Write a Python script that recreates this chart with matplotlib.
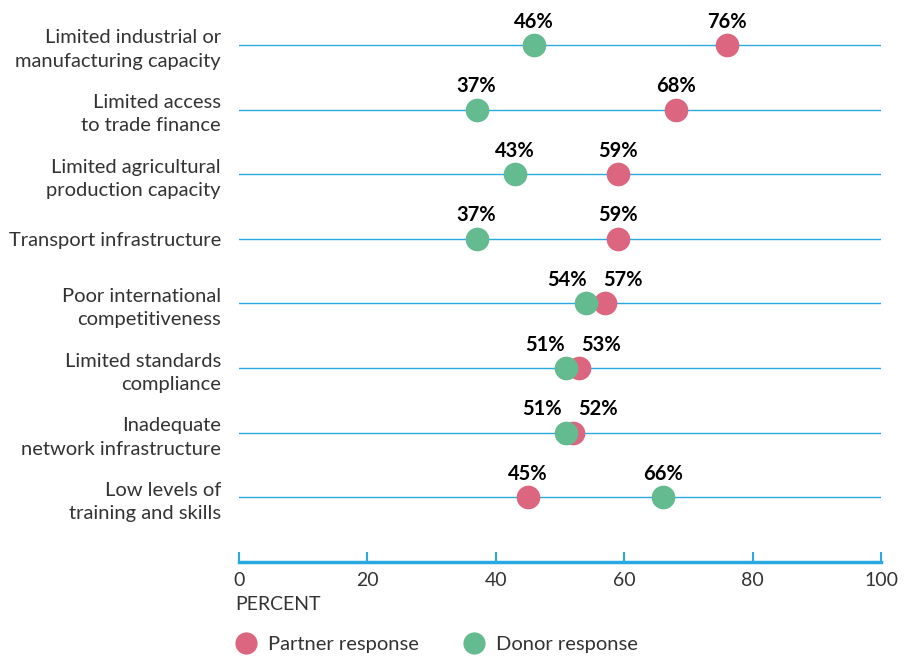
import numpy as np
import matplotlib.pyplot as plt
from matplotlib.lines import Line2D

plt.rcParams['font.family'] = ['Lato', 'DejaVu Sans']

# survey categories, top to bottom
categories = [
    "Limited industrial or\nmanufacturing capacity",
    "Limited access\nto trade finance",
    "Limited agricultural\nproduction capacity",
    "Transport infrastructure",
    "Poor international\ncompetitiveness",
    "Limited standards\ncompliance",
    "Inadequate\nnetwork infrastructure",
    "Low levels of\ntraining and skills",
]
partner = [76, 68, 59, 59, 57, 53, 52, 45]
donor = [46, 37, 43, 37, 54, 51, 51, 66]
xticks = [0, 20, 40, 60, 80, 100]

red = "#dc6680"
green = "#63bb8f"
blue = "#29a9e0"
txt = "#333333"

fig = plt.figure(figsize=(9.05, 6.57), dpi=100)
ax = fig.add_axes([239/905, (657-562)/657, (881-239)/905, (562-10)/657])

y = np.arange(len(categories))
for yi in y:
    ax.axhline(yi, color=blue, lw=1.0, zorder=1)

ax.scatter(partner, y, s=290, color=red, zorder=3, linewidths=0)
ax.scatter(donor, y, s=290, color=green, zorder=4, linewidths=0)

# value labels; spread them apart when the two dots nearly touch
px_per_unit = 642 / 100
for yi, p, d in zip(y, partner, donor):
    if abs(p - d) < 6:
        mid = (p + d) / 2
        lo, hi = (p, d) if p < d else (d, p)
        offs = {lo: (mid - lo) * px_per_unit - 28, hi: (mid - hi) * px_per_unit + 28}
    else:
        offs = {p: 0, d: 0}
    for v in (p, d):
        ax.annotate(f"{v}%", (v, yi), xytext=(offs[v] * 0.72, 12.5),
                    textcoords="offset points", ha="center", va="baseline",
                    fontsize=14.5, fontweight="bold", color="black", zorder=5)

ax.set_xlim(0, 100)
ax.set_ylim(8.0, -0.54)
ax.set_xticks(xticks)
ax.set_xticklabels([str(t) for t in xticks], fontsize=14, color=txt)
ax.set_yticks(y)
ax.set_yticklabels(categories, fontsize=14.5, color=txt)
for lbl in ax.get_yticklabels():
    lbl.set_linespacing(1.45)

ax.tick_params(axis="y", length=0, pad=13)
ax.tick_params(axis="x", direction="in", length=7, width=1.5, color=blue, pad=7)
for side in ("top", "right", "left"):
    ax.spines[side].set_visible(False)
ax.spines["bottom"].set_color(blue)
ax.spines["bottom"].set_linewidth(2.5)

fig.text(235/905, 1 - 605/657, "PERCENT", fontsize=14, color=txt, va="center", ha="left")

handles = [
    Line2D([], [], marker="o", ls="", ms=16, color=red, markeredgewidth=0, label="Partner response"),
    Line2D([], [], marker="o", ls="", ms=16, color=green, markeredgewidth=0, label="Donor response"),
]
fig.legend(handles=handles, loc="center left", bbox_to_anchor=(208/905, 1 - 644/657),
           ncol=2, frameon=False, fontsize=14.5, handletextpad=0.1,
           columnspacing=1.7, labelcolor=txt)

fig.savefig("out.png", dpi=100)
